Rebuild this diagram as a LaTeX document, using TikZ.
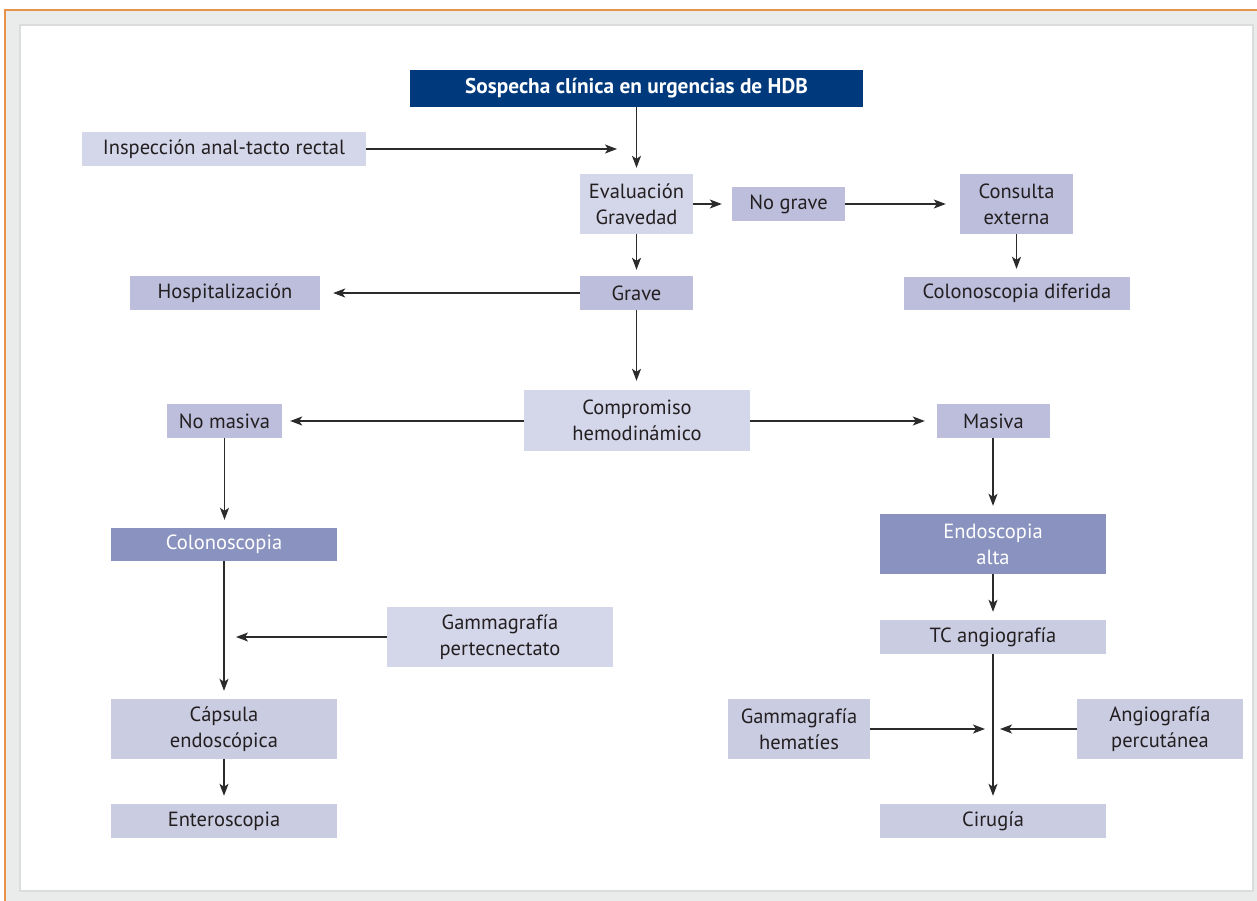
\documentclass[tikz,border=0pt]{standalone}
\usepackage{fontspec}
\setmainfont{PT Sans}
\usetikzlibrary{arrows.meta}
\definecolor{hdr}{HTML}{003A7D}
\definecolor{lite}{HTML}{D4D6EA}
\definecolor{med}{HTML}{BCBEDC}
\definecolor{mid}{HTML}{CACCE2}
\definecolor{dark}{HTML}{8A93BF}
\definecolor{txt}{HTML}{231F20}
\definecolor{frameg}{HTML}{E9ECEA}
\definecolor{frameb}{HTML}{DADDDB}
\definecolor{orng}{HTML}{E8924A}
\definecolor{ln}{HTML}{2B2B2B}
\begin{document}
\begin{tikzpicture}[x=1pt,y=-1pt,
  box/.style={inner sep=0pt, align=center, text=txt, font=\fontsize{20.5}{26}\selectfont},
  bx/.style n args={3}{box, minimum width=#1, minimum height=#2, fill=#3},
  arr/.style={draw=ln, line width=1.3pt, -{Stealth[length=12pt,width=9pt,inset=3pt]}},
  ln/.style={draw=ln, line width=1.3pt}]
\useasboundingbox (0,0) rectangle (1257,901);
\fill[frameg] (5,9) rectangle (1257,901);
\draw[orng, line width=2pt] (5,901) -- (5,10) -- (1257,10);
\draw[frameb, line width=2pt, fill=white] (20,25) rectangle (1253,891);

\node[bx={453pt}{37pt}{hdr}, text=white, font=\fontsize{21.3}{26}\selectfont\bfseries] (sosp) at (636.5,88.5) {Sospecha clínica en urgencias de HDB};
\node[bx={284pt}{34pt}{lite}] (insp) at (224,149) {Inspección anal-tacto rectal};
\node[bx={113pt}{60pt}{lite}] (eval) at (636.5,204) {Evaluación\\Gravedad};
\node[bx={113pt}{34pt}{med}] (nograve) at (788.5,204) {No grave};
\node[bx={113pt}{60pt}{med}] (consulta) at (1016.5,204) {Consulta\\externa};
\node[bx={226pt}{33pt}{med}] (coldif) at (1017,293.5) {Colonoscopia diferida};
\node[bx={113pt}{34pt}{med}] (grave) at (636.5,293) {Grave};
\node[bx={190pt}{34pt}{med}] (hosp) at (225,293) {Hospitalización};
\node[bx={226pt}{61pt}{lite}] (comp) at (637,420.5) {Compromiso\\hemodinámico};
\node[bx={115pt}{34pt}{med}] (nomas) at (224.5,421) {No masiva};
\node[bx={113pt}{34pt}{med}] (masiva) at (993.5,421) {Masiva};
\node[bx={226pt}{33pt}{dark}, text=white] (colono) at (224,544.5) {Colonoscopia};
\node[bx={226pt}{60pt}{dark}, text=white] (endo) at (993,544) {Endoscopia\\alta};
\node[bx={226pt}{60pt}{lite}] (gpert) at (500,637) {Gammagrafía\\pertecnectato};
\node[bx={226pt}{60pt}{mid}] (capsula) at (224,729) {Cápsula\\endoscópica};
\node[bx={226pt}{34pt}{mid}] (tc) at (993,637) {TC angiografía};
\node[bx={226pt}{34pt}{mid}] (entero) at (224,821) {Enteroscopia};
\node[bx={226pt}{34pt}{mid}] (cirugia) at (993,821) {Cirugía};
\node[bx={142pt}{60pt}{mid}] (ghem) at (799,729) {Gammagrafía\\hematíes};
\node[bx={166pt}{60pt}{mid}] (angio) at (1160,729) {Angiografía\\percutánea};

\coordinate (inspend) at (617,149);
\coordinate (gpertend) at (236,637);
\coordinate (ghemend) at (985,729);
\coordinate (angioend) at (1000,729);

\draw[arr] (insp.east) -- (inspend);
\draw[arr, shorten >=6pt] (sosp.south) -- (eval.north);
\draw[arr, shorten >=10pt] (eval.east) -- (nograve.west);
\draw[arr, shorten >=14pt] (nograve.east) -- (consulta.west |- nograve.east);
\draw[arr, shorten >=8pt] (consulta.south) -- (consulta.south |- coldif.north);
\draw[arr, shorten >=6pt] (eval.south) -- (grave.north);
\draw[arr, shorten >=13pt] (grave.west) -- (hosp.east);
\draw[arr, shorten >=9pt] (grave.south) -- (comp.north -| grave.south);
\draw[arr, shorten >=8pt] (comp.west |- nomas.east) -- (nomas.east);
\draw[arr, shorten >=12pt] (comp.east |- masiva.west) -- (masiva.west);
\draw[arr, shorten >=8pt] (nomas.south) -- (nomas.south |- colono.north);
\draw[arr, shorten >=8pt] (colono.south) -- (capsula.north);
\draw[arr] (gpert.west) -- (gpertend);
\draw[arr, shorten >=8pt] (capsula.south) -- (entero.north);
\draw[arr, shorten >=8pt] (masiva.south -| endo.north) -- (endo.north);
\draw[arr, shorten >=8pt] (endo.south) -- (tc.north);
\draw[arr, shorten >=8pt] (tc.south) -- (cirugia.north);
\draw[arr] (ghem.east) -- (ghemend);
\draw[arr] (angio.west) -- (angioend);
\end{tikzpicture}
\end{document}
